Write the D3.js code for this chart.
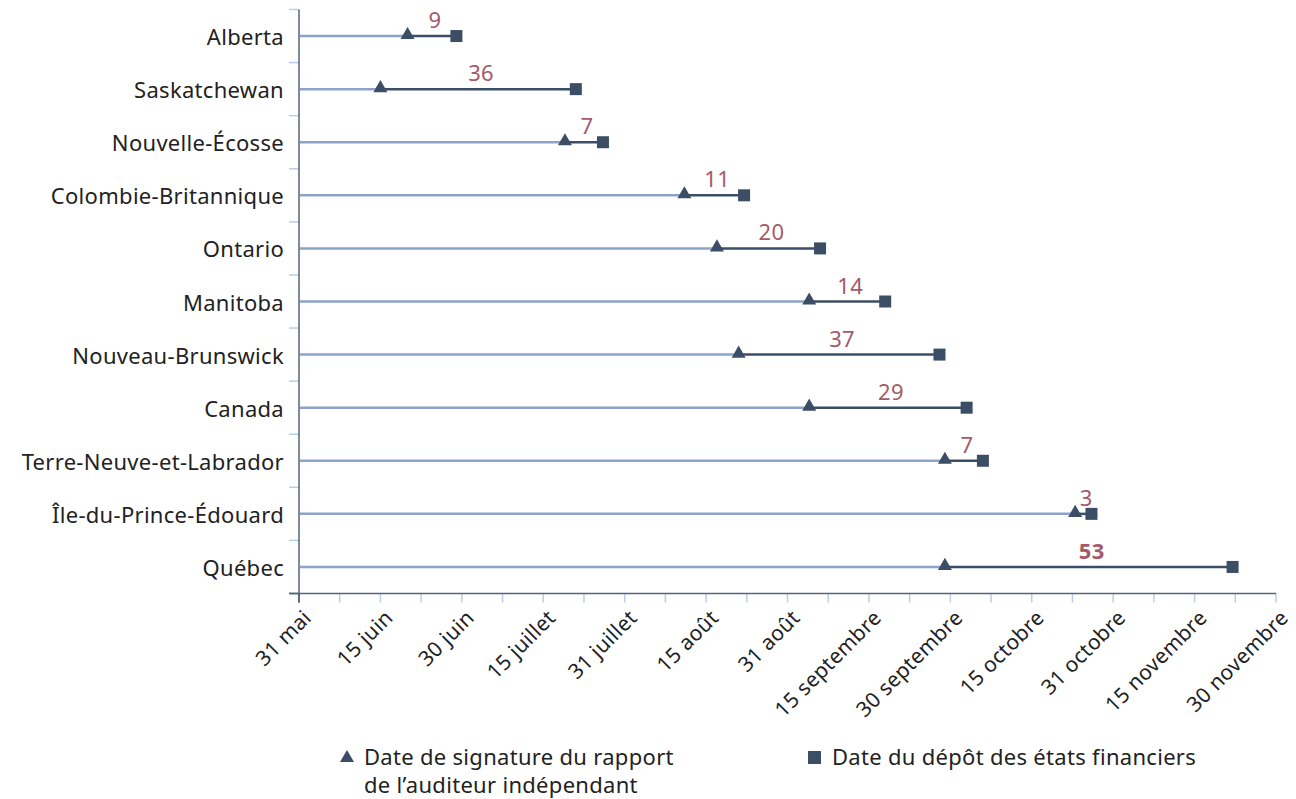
<!DOCTYPE html>
<html>
<head>
<meta charset="utf-8">
<script src="https://cdn.jsdelivr.net/npm/d3@7"></script>
<style>
  body { margin: 0; background: #fff; }
  text { font-family: "Noto Sans", sans-serif; letter-spacing: 0.3px; }
</style>
</head>
<body>
<svg id="chart" width="1296" height="799"></svg>
<script>
// provinces, top to bottom
const provinces = ["Alberta", "Saskatchewan", "Nouvelle-Écosse", "Colombie-Britannique", "Ontario",
  "Manitoba", "Nouveau-Brunswick", "Canada", "Terre-Neuve-et-Labrador", "Île-du-Prince-Édouard", "Québec"];
// days after 31 May
const signatureDay = [20, 15, 49, 71, 77, 94, 81, 94, 119, 143, 119];
const depotDay     = [29, 51, 56, 82, 96, 108, 118, 123, 126, 146, 172];
const gapLabels    = ["9", "36", "7", "11", "20", "14", "37", "29", "7", "3", "53"];
const tickDays     = [0, 15, 30, 45, 60, 75, 90, 105, 120, 135, 150, 165, 180];
const tickLabels   = ["31 mai", "15 juin", "30 juin", "15 juillet", "31 juillet", "15 août", "31 août",
  "15 septembre", "30 septembre", "15 octobre", "31 octobre", "15 novembre", "30 novembre"];

const svg = d3.select("#chart");
const mLeft = 299, mRight = 1276, mTop = 9.5, mBottom = 593.5;
const navy = "#3b4e66", light = "#8da3cc", tickCol = "#b9cde8", rose = "#a45a6a";

const x = d3.scaleLinear().domain([0, 180]).range([mLeft, mRight]);
const y = d3.scaleBand().domain(provinces).range([mTop, mBottom]);

// y axis: category boundary ticks on left
const bounds = provinces.map(p => y(p)).concat([mBottom]);
svg.selectAll(".ytick").data(bounds).join("line")
  .attr("x1", mLeft - 10).attr("x2", mLeft)
  .attr("y1", d => d).attr("y2", d => d)
  .attr("stroke", (d, i) => i === bounds.length - 1 ? navy : tickCol).attr("stroke-width", 1.5);

svg.selectAll(".ylab").data(provinces).join("text")
  .attr("x", mLeft - 15).attr("y", d => y(d) + y.bandwidth() / 2)
  .attr("text-anchor", "end").attr("dominant-baseline", "central")
  .attr("font-size", 22).attr("fill", "#222")
  .text(d => d);

// x axis ticks (minor every 7.5 days)
const minor = d3.range(0, 181, 7.5);
svg.selectAll(".xtick").data(minor).join("line")
  .attr("x1", d => x(d)).attr("x2", d => x(d))
  .attr("y1", mBottom).attr("y2", mBottom + 9)
  .attr("stroke", (d, i) => i === 0 ? navy : tickCol).attr("stroke-width", 1.5);

svg.selectAll(".xlab").data(tickDays).join("text")
  .attr("transform", d => `translate(${x(d) + 8},${mBottom + 20}) rotate(-45)`)
  .attr("text-anchor", "end").attr("dominant-baseline", "central")
  .attr("font-size", 21).attr("fill", "#222")
  .text((d, i) => tickLabels[i]);

// axis lines
svg.append("line").attr("x1", mLeft).attr("x2", mLeft).attr("y1", mTop).attr("y2", mBottom + 9)
  .attr("stroke", "#55657d").attr("stroke-width", 1.5);
svg.append("line").attr("x1", mLeft - 10).attr("x2", mRight).attr("y1", mBottom).attr("y2", mBottom)
  .attr("stroke", "#55657d").attr("stroke-width", 1.5);

const rows = provinces.map((p, i) => ({ p, s: signatureDay[i], e: depotDay[i], lab: gapLabels[i] }));
const cy = d => y(d.p) + y.bandwidth() / 2;

// light line from axis to signature
svg.selectAll(".lead").data(rows).join("line")
  .attr("x1", mLeft + 1).attr("x2", d => x(d.s)).attr("y1", cy).attr("y2", cy)
  .attr("stroke", light).attr("stroke-width", 2.5);
// dark gap segment
svg.selectAll(".gap").data(rows).join("line")
  .attr("x1", d => x(d.s)).attr("x2", d => x(d.e)).attr("y1", cy).attr("y2", cy)
  .attr("stroke", navy).attr("stroke-width", 2.5);

svg.selectAll(".tri").data(rows).join("path")
  .attr("d", d3.symbol(d3.symbolTriangle, 85))
  .attr("transform", d => `translate(${x(d.s)},${cy(d) - 1})`)
  .attr("fill", navy);

svg.selectAll(".sq").data(rows).join("rect")
  .attr("x", d => x(d.e) - 6).attr("y", d => cy(d) - 6)
  .attr("width", 12).attr("height", 12).attr("fill", navy);

svg.selectAll(".gaplab").data(rows).join("text")
  .attr("x", d => (x(d.s) + x(d.e)) / 2 + 3).attr("y", d => cy(d) - 8)
  .attr("text-anchor", "middle").attr("font-size", 22).attr("fill", rose)
  .attr("font-weight", (d, i) => i === rows.length - 1 ? "bold" : "normal")
  .text(d => d.lab);

// legend
const lg = svg.append("g");
lg.append("path").attr("d", d3.symbol(d3.symbolTriangle, 85)).attr("transform", "translate(347,758)").attr("fill", navy);
lg.append("text").attr("x", 364).attr("y", 765).attr("font-size", 22).attr("fill", "#222").text("Date de signature du rapport");
lg.append("text").attr("x", 364).attr("y", 793).attr("font-size", 22).attr("fill", "#222").text("de l’auditeur indépendant");
lg.append("rect").attr("x", 808).attr("y", 751).attr("width", 13).attr("height", 13).attr("fill", navy);
lg.append("text").attr("x", 832).attr("y", 765).attr("font-size", 22).attr("fill", "#222").text("Date du dépôt des états financiers");
</script>
</body>
</html>
